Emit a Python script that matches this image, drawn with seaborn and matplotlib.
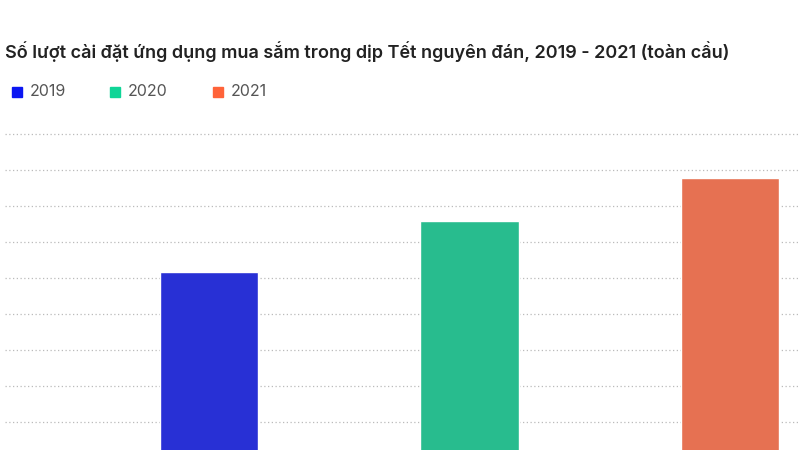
import matplotlib
matplotlib.use('Agg')
import matplotlib.pyplot as plt
import seaborn as sns
import pandas as pd

# Dữ liệu (đơn vị ước lượng từ ảnh)
years = ['2019', '2020', '2021']
installs = [5.17, 6.58, 7.78]
colors = ['#0b16f2', '#0fd597', '#ff6339']

title = 'Số lượt cài đặt ứng dụng mua sắm trong dịp Tết nguyên đán, 2019 - 2021 (toàn cầu)'

sns.set_style('white')
plt.rcParams['font.family'] = ['Inter', 'DejaVu Sans']

df = pd.DataFrame({'year': years, 'installs': installs})

fig = plt.figure(figsize=(8, 4.5), dpi=100)
ax = fig.add_axes([5 / 800, -8 / 450, 795 / 800, 328 / 450])
sns.barplot(data=df, x='year', y='installs', hue='year', palette=colors,
            width=0.377, legend=False, ax=ax, zorder=3)
ax.set_xlim(-0.785, 2.27)
ax.set_ylim(0, 9.11)
ax.set_yticks(range(1, 10))
ax.yaxis.grid(True, linestyle=(0, (1, 2)), color='#bbbbbb', linewidth=0.9, zorder=0)
ax.tick_params(left=False, bottom=False, labelleft=False, labelbottom=False)
ax.set_xlabel('')
ax.set_ylabel('')
sns.despine(ax=ax, left=True, bottom=True)

fig.text(5 / 800, 1 - 52 / 450, title, fontsize=13, fontweight='semibold',
         color='#222222', va='center', ha='left')

# Chú thích
legend_x = [12, 110, 213]
for x, y, c in zip(legend_x, years, colors):
    fig.patches.append(plt.Rectangle((x / 800, 1 - 97 / 450), 10 / 800, 10 / 450,
                                     transform=fig.transFigure, color=c, figure=fig))
    fig.text((x + 18) / 800, 1 - 92 / 450, y, fontsize=11.5, color='#555555',
             va='center', ha='left')

fig.savefig('out.png', dpi=100)
